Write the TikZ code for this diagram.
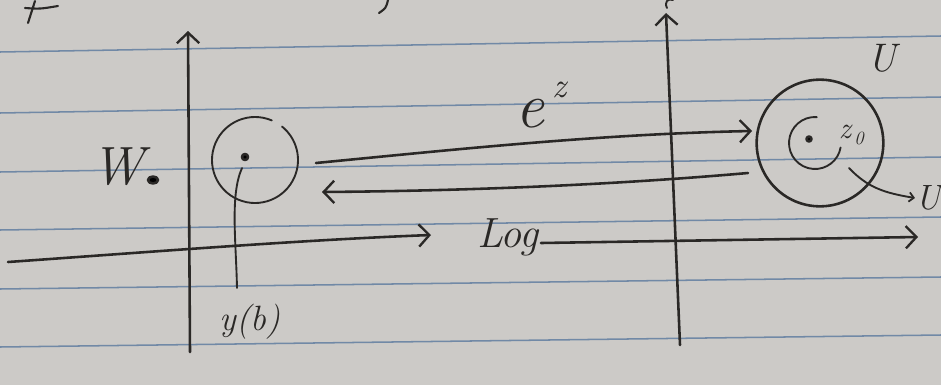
\documentclass[tikz,border=0pt]{standalone}
\usepackage{fontspec}
\usetikzlibrary{arrows.meta}
\definecolor{paper}{HTML}{CCCAC7}
\definecolor{rulec}{HTML}{7189A6}
\definecolor{ink}{HTML}{2A2826}
\newcommand{\fsz}[1]{\fontsize{#1}{#1}\selectfont\itshape}
\begin{document}
\begin{tikzpicture}[x=0.03cm,y=-0.03cm,
  ink/.style={draw=ink,line width=2.2pt,line cap=round,line join=round},
  thinink/.style={draw=ink,line width=1.6pt,line cap=round,line join=round},
  barb/.style={-{Straight Barb[length=9pt,width=19pt,line width=2pt]}},
  smallbarb/.style={-{Straight Barb[length=4pt,width=8pt,line width=1.5pt]}},
  lbl/.style={text=ink,inner sep=0pt}]
\fill[paper] (0,0) rectangle (941,385);
\useasboundingbox (0,0) rectangle (941,385);
% ruled paper lines
\foreach \a/\b in {52/36,113/97,172/157,230/217,289/277,347/335}
  \draw[rulec,line width=1.3pt] (0,\a) -- (941,\b);
% fragments of the line above
\draw[ink,line width=1.8pt] (25,8) .. controls (40,9) .. (58,6);
\draw[ink,line width=1.8pt] (35,1) -- (28,23);
\draw[ink,line width=1.8pt] (388,0) .. controls (386,8) .. (379,13);
\draw[ink,line width=1.6pt] (667,8) .. controls (664,2) and (668,-2) .. (673,0);
% axes
\coordinate (L0) at (190,352); \coordinate (L1) at (188,31);
\draw[ink,barb] (L0) -- (L1);
\coordinate (R0) at (680,345); \coordinate (R1) at (666,13);
\draw[ink,barb] (R0) -- (R1);
% horizontal axis / Log
\coordinate (H0) at (8,262); \coordinate (H1) at (431,235);
\draw[ink,barb] (H0) .. controls (150,252) and (300,240) .. (H1);
\node[lbl,font=\fsz{36}] (log) at (508,237) {Log};
\coordinate (H2) at (541,243); \coordinate (H3) at (918,237);
\draw[ink,barb] (H2) -- (H3);
% left disk
\coordinate (wc) at (255,160);
\draw[thinink] (wc) ++(-67:43) arc[start angle=-67,end angle=-411,radius=43];
\coordinate (w0) at (245,157);
\fill[ink] (w0) circle (3);
\node[lbl,font=\fsz{30}] (yb) at (250,322) {y(b)};
\draw[thinink] (242,168) .. controls (230,195) and (236,240) .. (237,288);
\node[lbl,font=\fsz{46}] (W) at (118,167) {W};
\fill[ink] (153,180) ellipse (5 and 3.5);
% right disks
\node[circle,draw=ink,line width=2.2pt,minimum size=3.8cm,inner sep=0pt] (Ubig) at (820,143) {};
\coordinate (zc) at (815,143);
\draw[thinink] (zc) ++(-86:26) arc[start angle=-86,end angle=-350,radius=26];
\coordinate (z0) at (809,139);
\fill[ink] (z0) circle (2.5);
\node[lbl,font=\fsz{26}] (zlab) at (845,132) {z};
\node[lbl,font=\fsz{16}] (zsub) at (859,138) {0};
\node[lbl,font=\fsz{34}] (Ulab) at (882,58) {U};
\node[lbl,font=\fsz{30}] (U2) at (928,198) {U};
\coordinate (p0) at (849,168);
\draw[thinink,smallbarb] (p0) .. controls (868,188) and (885,193) .. (U2.west);
% maps
\coordinate (a0) at (316,163); \coordinate (a1) at (752,131);
\draw[ink,barb] (a0) .. controls (450,150) and (600,134) .. (a1);
\node[lbl,font=\fsz{55}] (ez) at (530,114) {e};
\node[lbl,font=\fsz{30}] (ezs) at (560,90) {z};
\coordinate (b0) at (748,173); \coordinate (b1) at (322,192);
\draw[ink,barb] (b0) .. controls (600,186) and (450,191) .. (b1);
\end{tikzpicture}
\end{document}
